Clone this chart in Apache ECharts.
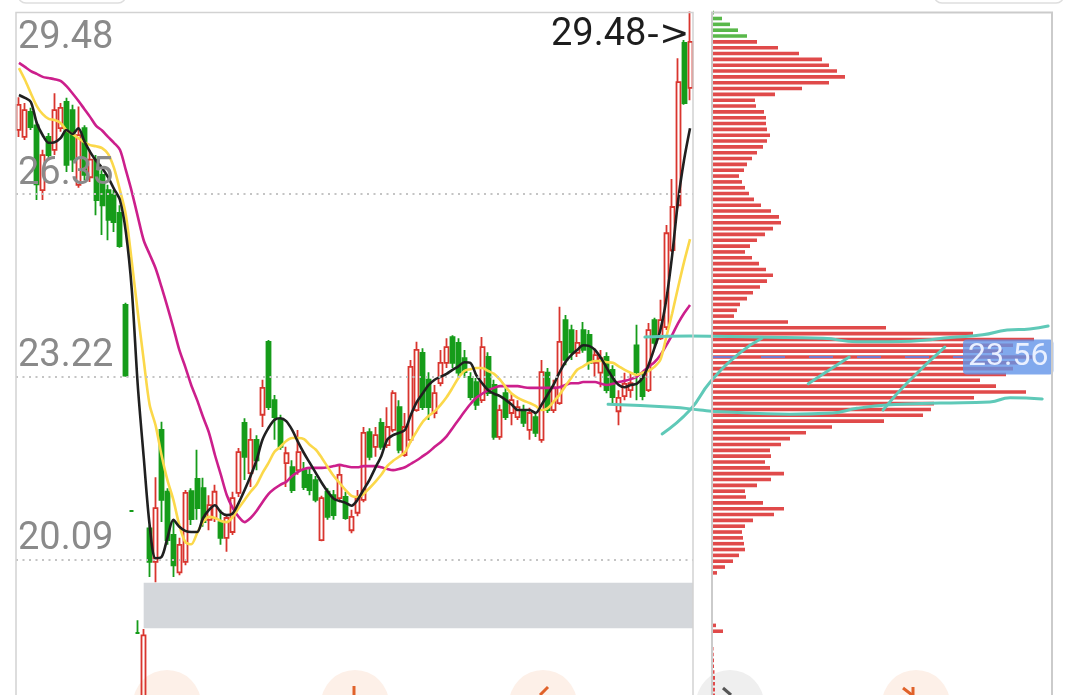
<!DOCTYPE html>
<html><head><meta charset="utf-8">
<script src="https://cdn.jsdelivr.net/npm/echarts@6/dist/echarts.min.js"></script>
<style>html,body{margin:0;padding:0;background:#fff;}#c{width:1084px;height:695px;}</style>
</head><body><div id="c"></div>
<script>
// ---- price axis tick labels ----
const yTicks = [16.96, 20.09, 23.22, 26.35, 29.48];

// ---- daily candles (open / close / high / low) ----
const opens = [27.45,27.33,27.76,27.53,26.42,27.33,27.11,27.48,27.93,27.79,
26.51,27.48,26.64,26.94,26.68,26.42,26.34,26.03,24.45,20.92,
18.83,16.96,20.62,20.05,22.31,21.25,20.51,19.87,20.05,21.26,
21.47,21.31,20.77,20.80,20.73,20.46,20.56,21.23,22.43,21.57,
22.14,22.57,23.82,22.82,22.48,21.74,21.67,21.62,21.62,21.54,
21.45,20.42,21.25,21.19,21.14,21.16,20.59,20.89,21.11,22.27,
22.02,22.43,22.05,22.31,22.70,21.88,22.14,22.65,23.63,23.17,
22.60,23.11,23.46,23.90,23.80,23.54,23.22,23.13,22.82,23.56,
23.08,22.19,22.94,22.60,22.53,22.65,22.31,22.53,22.14,23.29,
22.65,22.77,24.19,24.02,23.63,24.02,23.94,23.46,23.29,23.56,
23.34,22.63,22.89,22.99,23.76,23.20,22.99,24.19,23.88,24.07,
25.39,26.16,28.94,28.17];
const closes = [27.88,27.79,27.50,26.52,27.02,27.02,27.79,27.83,26.85,26.94,
27.36,26.68,26.94,26.25,26.16,25.91,25.87,25.46,23.24,20.92,
18.83,18.79,20.05,20.97,21.11,20.42,19.99,20.34,21.23,20.78,
20.97,20.73,21.02,21.25,20.46,20.80,21.14,21.93,21.85,22.14,
21.79,23.03,22.70,22.53,22.02,21.91,21.28,21.93,21.33,21.28,
21.11,21.14,20.82,20.85,21.54,20.80,20.82,21.14,22.26,21.85,
22.22,22.02,22.36,22.94,21.97,22.36,23.39,23.68,22.70,22.70,
22.94,23.46,23.73,23.46,23.29,23.30,22.87,22.74,23.73,22.94,
22.19,22.65,22.53,22.82,22.70,22.43,22.60,22.26,23.30,22.65,
23.04,23.82,23.51,23.64,23.80,23.68,23.46,23.59,23.54,22.99,
22.87,22.86,23.10,23.11,23.30,22.89,24.02,23.80,24.19,25.68,
26.13,28.27,27.91,28.96];
const highs = [28.01,27.91,27.83,27.59,27.11,27.40,28.08,27.91,28.00,27.88,
27.85,27.53,27.11,27.02,26.76,26.51,26.42,26.16,24.49,20.92,
19.05,18.90,20.67,21.50,22.45,21.31,20.77,20.46,21.28,21.31,
21.97,21.49,21.19,21.37,20.94,20.85,21.25,22.00,22.51,22.34,
22.22,23.17,23.85,22.91,22.57,22.02,21.79,22.31,21.76,21.66,
21.52,21.18,21.31,21.28,21.71,21.25,20.94,21.28,22.36,22.34,
22.36,22.51,22.70,22.99,22.82,22.60,23.51,23.82,23.71,23.30,
23.08,23.68,23.88,23.93,23.88,23.68,23.30,23.20,23.90,23.64,
23.17,22.74,23.03,22.94,22.82,22.74,22.69,22.62,23.51,23.37,
23.17,24.42,24.28,24.11,24.02,24.16,24.02,23.71,23.68,23.64,
23.42,22.99,23.29,23.29,24.11,23.30,24.14,24.23,24.54,25.82,
26.61,28.68,28.99,29.48];
const lows = [27.33,27.28,27.45,26.25,26.25,26.94,27.02,27.42,26.73,26.73,
26.46,26.59,26.56,25.99,25.65,25.56,25.70,25.43,23.22,20.92,
18.83,16.96,19.79,19.70,20.73,20.34,19.79,19.82,19.99,20.68,
20.77,20.65,20.59,20.73,20.34,20.22,20.51,21.16,21.45,21.33,
21.62,22.36,22.65,22.14,21.97,21.33,21.23,21.54,21.28,21.19,
21.07,20.40,20.77,20.77,21.07,20.77,20.54,20.83,21.07,21.79,
21.85,21.97,22.00,22.27,21.91,21.85,22.09,22.62,22.65,22.48,
22.51,23.06,23.37,23.37,23.20,23.20,22.82,22.65,22.77,22.89,
22.14,22.14,22.48,22.39,22.48,22.36,22.14,22.19,22.09,22.60,
22.60,22.74,23.42,23.51,23.56,23.63,23.34,23.22,23.04,22.94,
22.74,22.39,22.82,22.86,22.82,22.82,22.96,23.71,23.85,24.02,
25.36,26.11,27.88,27.96];

// ---- moving averages ----
const ma5 = [28.05,28.00,27.93,27.57,27.36,27.23,27.24,27.31,27.45,27.38,
27.48,27.26,27.07,26.92,26.80,26.64,26.44,26.25,25.70,24.71,
23.08,21.85,20.68,20.11,20.13,20.46,20.77,20.65,20.58,20.56,
20.56,20.80,20.94,21.02,20.90,20.85,20.88,21.06,21.28,21.52,
21.79,22.14,22.34,22.48,22.51,22.46,22.31,22.10,21.91,21.74,
21.57,21.40,21.25,21.13,21.09,21.06,21.01,21.11,21.28,21.45,
21.66,21.86,22.14,22.22,22.26,22.31,22.57,22.79,22.94,23.08,
23.17,23.22,23.27,23.34,23.40,23.47,23.46,23.25,23.11,22.99,
22.93,22.89,22.82,22.74,22.65,22.65,22.65,22.60,22.74,22.91,
23.08,23.29,23.47,23.59,23.68,23.76,23.75,23.68,23.54,23.37,
23.20,23.08,23.04,23.08,23.10,23.20,23.42,23.71,24.02,24.54,
25.31,26.25,26.94,27.48];
const ma10 = [28.51,28.31,28.08,27.86,27.72,27.64,27.62,27.57,27.45,27.38,
27.31,27.24,27.19,27.17,27.14,27.04,26.80,26.42,25.99,25.19,
24.33,23.51,22.74,22.39,21.88,21.45,21.11,20.68,20.39,20.35,
20.54,20.73,20.82,20.80,20.75,20.73,20.82,20.97,21.11,21.25,
21.37,21.57,21.74,21.93,22.02,22.12,22.17,22.17,22.15,22.05,
21.97,21.83,21.67,21.52,21.40,21.28,21.18,21.16,21.21,21.31,
21.42,21.54,21.69,21.78,21.85,21.93,22.12,22.29,22.45,22.55,
22.63,22.74,22.87,23.03,23.20,23.32,23.35,23.37,23.37,23.32,
23.27,23.17,23.04,22.93,22.86,22.81,22.77,22.72,22.65,22.68,
22.79,22.91,23.06,23.20,23.34,23.40,23.46,23.49,23.49,23.47,
23.46,23.40,23.34,23.29,23.25,23.29,23.32,23.39,23.51,23.90,
24.31,24.76,25.19,25.58];
const ma20 = [28.60,28.53,28.46,28.41,28.36,28.34,28.32,28.29,28.20,28.08,
27.95,27.81,27.67,27.52,27.44,27.33,27.23,27.11,26.76,26.39,
25.97,25.56,25.32,25.08,24.76,24.42,24.06,23.68,23.39,23.08,
22.82,22.53,22.26,21.88,21.54,21.19,20.97,20.82,20.73,20.80,
20.92,21.07,21.21,21.30,21.37,21.42,21.52,21.59,21.64,21.66,
21.66,21.66,21.67,21.69,21.71,21.69,21.67,21.67,21.69,21.69,
21.69,21.67,21.64,21.62,21.64,21.67,21.73,21.79,21.86,21.93,
22.02,22.10,22.20,22.34,22.48,22.62,22.75,22.86,22.93,22.99,
23.03,23.06,23.06,23.06,23.06,23.04,23.03,23.03,23.03,23.03,
23.03,23.04,23.08,23.11,23.11,23.13,23.13,23.13,23.10,23.08,
23.10,23.13,23.15,23.18,23.22,23.30,23.39,23.47,23.59,23.76,
23.94,24.14,24.31,24.45];

const categories = opens.map((_, i) => 'D' + (i + 1));

// ---- chip distribution (cost profile), top level 29.46, step 0.10 ----
const chipTop = 29.46, chipStep = 0.10;
const chipVolumes = [1,9,17,25,34,44,65,86,109,116,
124,132,116,89,62,42,43,51,53,53,
54,57,54,50,44,39,34,31,26,29,
32,36,41,48,58,66,68,60,52,44,
37,32,39,46,53,60,54,47,40,34,
27,24,21,75,173,260,321,300,290,320,
305,300,293,267,283,313,261,221,218,210,
171,119,93,77,68,57,58,52,57,71,
58,44,32,33,50,71,61,40,32,29,
30,31,32,26,20,12,4,0,0,0,
0,0,0,0,0,3,10,0,0,0.5,
0.7,1,1,1.5,2,2,2,2];
const chipLevels = chipVolumes.map((_, m) => +(chipTop - chipStep * m).toFixed(2));
const avgCost = 23.56;

// ---- unfilled gap zone ----
const gapStartIndex = 21;
const gapLow = 18.91, gapHigh = 19.69;

// ---- hand-drawn strokes, in (candle index, price) ----
const noteStrokes = [
  [[105.4,23.90],[113.0,23.92],[124.3,23.90],[135.4,23.88],[141.1,23.82],[146.7,23.82],[157.9,23.90],[162.3,23.94],[166.4,24.02],[170.2,24.04],[173.3,24.09]],
  [[99.2,22.75],[110.1,22.70],[114.7,22.65],[118.5,22.62],[129.8,22.58],[137.0,22.60],[141.1,22.68],[146.7,22.74],[155.1,22.77],[163.5,22.79],[166.9,22.86],[172.3,22.84]],
  [[108.3,22.24],[113.0,22.65],[116.4,23.13],[121.4,23.63],[125.1,23.88]],
  [[132.9,23.10],[139.8,23.56]],
  [[145.5,22.65],[149.5,23.11],[155.9,23.73]]
];

// ================= layout =================
const yMin = yTicks[0], yMax = yTicks[yTicks.length - 1];
const plotTop = 11.5, plotHeight = 730.6;
const mainLeft = 16, mainWidth = 677;
const pxPerPrice = plotHeight / (yMax - yMin);
const step = mainWidth / categories.length;
const overlayWidth = 1044;
const chipLeft = 713, chipWidth = 339;
const band = chipStep * pxPerPrice;
const chipGridTop = plotTop + (yMax - chipTop) * pxPerPrice - band / 2;
const lastClose = closes[closes.length - 1];
const maxHigh = Math.max(...highs);
const maxIdx = highs.indexOf(maxHigh);

const RED = '#d9352e', GREEN = '#169c1a';
const labelFont = {fontFamily: 'Roboto', fontSize: 38};

const chart = echarts.init(document.getElementById('c'), null, {renderer: 'canvas'});

const series = [];
// gap band (under candles)
series.push({
  type: 'line', xAxisIndex: 2, yAxisIndex: 2, data: [], z: 1, silent: true,
  markArea: {silent: true, itemStyle: {color: '#d4d7db'},
    data: [[{coord: [gapStartIndex, gapHigh]}, {coord: [categories.length - 0.5, gapLow]}]]}
});
// tick lines + labels
series.push({
  type: 'line', xAxisIndex: 0, yAxisIndex: 0, data: [], z: 1, silent: true,
  markLine: {
    silent: true, symbol: ['none', 'none'], animation: false,
    data: yTicks.map((v, i) => {
      const isTop = i === yTicks.length - 1;
      return {
        yAxis: v,
        lineStyle: isTop ? {color: 'rgba(0,0,0,0)', width: 1} : {color: '#c4c4c4', width: 2, type: [2, 4.5]},
        label: Object.assign({show: true, position: isTop ? 'insideStartBottom' : 'insideStartTop',
          distance: isTop ? [2, 8] : [2, 1], formatter: v.toFixed(2), color: '#8a8a8a'}, labelFont)
      };
    })
  }
});
series.push({
  type: 'candlestick', xAxisIndex: 0, yAxisIndex: 0, z: 3, barWidth: 4.5,
  data: opens.map((o, i) => [o, closes[i], lows[i], highs[i]]),
  itemStyle: {color: 'rgba(255,255,255,0)', color0: GREEN, borderColor: RED, borderColor0: GREEN,
    borderColorDoji: GREEN, borderWidth: 1.8},
  markPoint: {
    symbol: 'circle', symbolSize: 1, itemStyle: {color: 'rgba(0,0,0,0)'}, silent: true,
    label: {show: true, position: 'left', distance: 0, offset: [0, 24],
      formatter: p => '{a|' + Number(p.value).toFixed(2) + '}{b|->}',
      rich: {a: {fontFamily: 'Roboto', fontSize: 38, color: '#1d1d1d'},
             b: {fontFamily: 'DejaVu Sans', fontSize: 36, color: '#1d1d1d'}}},
    data: [{coord: [categories[maxIdx], maxHigh], value: maxHigh}]
  }
});
[[ma20, '#cc1f8c'], [ma10, '#fbd84a'], [ma5, '#202020']].forEach(([d, c]) => {
  series.push({type: 'line', xAxisIndex: 0, yAxisIndex: 0, data: d, symbol: 'none', smooth: 0.3,
    z: 4, silent: true, lineStyle: {color: c, width: 2.6}});
});
// chip profile
series.push({
  type: 'bar', xAxisIndex: 1, yAxisIndex: 1, barWidth: 3.6, z: 2, silent: true,
  data: chipVolumes.map((v, m) => ({value: v, itemStyle: {color: chipLevels[m] > lastClose ? '#59b84a' : '#e04a4a'}}))
});
// average cost line
series.push({
  type: 'line', xAxisIndex: 3, yAxisIndex: 3, data: [], z: 5, silent: true,
  markLine: {
    silent: true, symbol: ['none', 'none'], animation: false,
    lineStyle: {color: '#7479cf', width: 2, type: [24, 24]},
    label: {show: true, position: 'end', distance: 0, formatter: avgCost.toFixed(2),
      color: '#e9f0ff', fontFamily: 'Roboto', fontSize: 32, backgroundColor: 'rgba(98,148,232,0.8)',
      padding: [2, 5, 1, 5], borderRadius: 4},
    data: [{yAxis: avgCost}]
  }
});
// hand-drawn strokes
noteStrokes.forEach(s => {
  series.push({type: 'line', xAxisIndex: 2, yAxisIndex: 2, data: s, symbol: 'none', smooth: 0.5,
    z: 10, silent: true, lineStyle: {color: '#5fc9b8', width: 3, cap: 'round'}});
});

const circle = (cx, fill) => ({type: 'circle', shape: {cx: cx, cy: 704, r: 34}, style: {fill: fill}, z: 0});
const glyph = (x1, y1, x2, y2, c) => ({type: 'line', shape: {x1, y1, x2, y2}, style: {stroke: c, lineWidth: 3}, z: 1});
const gridBase = {show: false, outerBoundsMode: 'none', containLabel: false};

chart.setOption({
  animation: false,
  backgroundColor: '#ffffff',
  grid: [
    Object.assign({left: mainLeft, top: plotTop, width: mainWidth, height: plotHeight}, gridBase),
    Object.assign({left: chipLeft, top: chipGridTop, width: chipWidth, height: band * chipLevels.length}, gridBase),
    Object.assign({left: mainLeft, top: plotTop, width: overlayWidth, height: plotHeight}, gridBase),
    Object.assign({left: chipLeft, top: plotTop, width: 250, height: plotHeight}, gridBase)
  ],
  xAxis: [
    {gridIndex: 0, type: 'category', data: categories, boundaryGap: true, show: false},
    {gridIndex: 1, type: 'value', min: 0, max: chipWidth, show: false},
    {gridIndex: 2, type: 'value', min: -0.5, max: -0.5 + overlayWidth / step, show: false},
    {gridIndex: 3, type: 'value', min: 0, max: 1, show: false}
  ],
  yAxis: [
    {gridIndex: 0, type: 'value', min: yMin, max: yMax, show: false},
    {gridIndex: 1, type: 'category', inverse: true, data: chipLevels.map(v => v.toFixed(2)), show: false},
    {gridIndex: 2, type: 'value', min: yMin, max: yMax, show: false},
    {gridIndex: 3, type: 'value', min: yMin, max: yMax, show: false}
  ],
  graphic: [
    circle(167, '#fdf0e8'), circle(355, '#fdf0e8'), circle(543, '#fdf0e8'), circle(730, '#efefef'), circle(916, '#fdf0e8'),
    glyph(354, 686, 354, 695, '#e0622a'),
    glyph(540, 695, 548, 687, '#e0622a'),
    glyph(723, 688, 731, 695, '#555555'),
    glyph(903, 688, 912, 695, '#e0622a'), glyph(913, 687, 913, 695, '#e0622a'),
    {type: 'rect', shape: {x: 18, y: -20, width: 108, height: 23, r: 8}, style: {fill: '#fff', stroke: '#dedede', lineWidth: 1.5}, z: 20},
    {type: 'rect', shape: {x: 934, y: -20, width: 130, height: 23, r: 8}, style: {fill: '#fff', stroke: '#dedede', lineWidth: 1.5}, z: 20},
    {type: 'rect', shape: {x: 16, y: 12.5, width: 677, height: 720}, style: {fill: 'none', stroke: '#d2d2d2', lineWidth: 1.5}, z: 20},
    {type: 'rect', shape: {x: 712, y: 12.5, width: 340, height: 720}, style: {fill: 'none', stroke: '#cbcbcb', lineWidth: 2}, z: 20}
  ],
  series: series
});
</script></body></html>
